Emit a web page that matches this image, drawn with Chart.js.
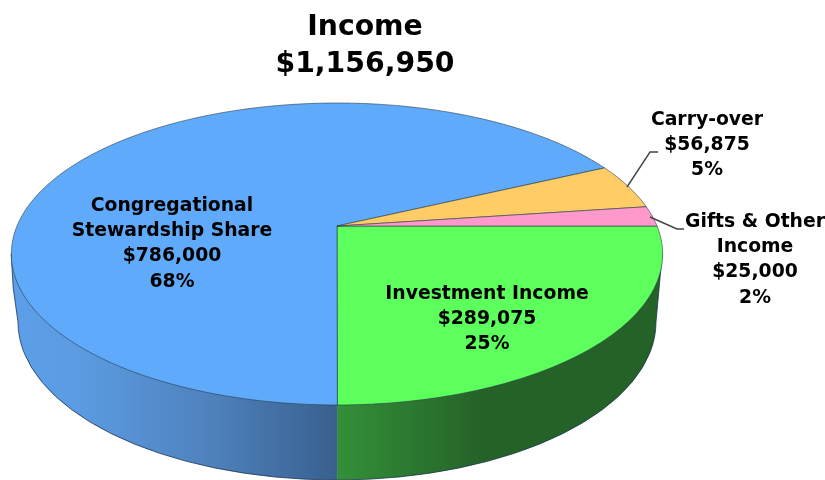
<!DOCTYPE html>
<html>
<head>
<meta charset="utf-8">
<style>html,body{margin:0;padding:0;background:#fff}#wrap{width:825px;height:480px}</style>
<script src="https://cdn.jsdelivr.net/npm/chart.js@4"></script>
</head>
<body>
<div id="wrap"><canvas id="c" width="825" height="480"></canvas></div>
<script>
const categories = ['Investment Income', 'Congregational Stewardship Share', 'Carry-over', 'Gifts & Other Income'];
const values = [289075, 786000, 56875, 25000];
const percents = ['25%', '68%', '5%', '2%'];
const titleLines = ['Income', '$1,156,950'];
const labelNames = [['Investment Income'], ['Congregational', 'Stewardship Share'], ['Carry-over'], ['Gifts & Other', 'Income']];

const faceColors = ['#5cff5c', '#60aafc', '#ffcc66', '#ff99cc'];
const FONT = '"DejaVu Sans"';
const labelCenters = [[487, 294], [172, 206], [707, 120], [755, 222]];
const labelLeading = 25.3, labelSize = 18.8;
const leaders = [[[627,187],[650,152],[658,152]], [[650,217],[677,229],[684,229]]];

// projective view of the pie's top face, and the rim's lower edge
const V = {ax: 337, ay: 226, c: 320, a: 145.8, b: -0.1854, bx: 337, by: 322, bR: 319, bS: 158};
const proj = t => {
  const u = Math.cos(t), v = Math.sin(t), d = 1 + V.b * v;
  return [V.ax + V.c * u / d, V.ay + V.a * v / d];
};
const shadeStops = {
  0: [[0, '#349038'], [0.45, '#256228'], [1, '#256228']],
  1: [[0, '#5c9fe8'], [0.2, '#5b9be2'], [0.6, '#4f82bd'], [1, '#38608f']]
};

function drawRim(ctx, arcs) {
  const left = [336.7 - 325.5, 254], right = [336.7 + 325.5, 254];
  const rim = () => {
    ctx.beginPath();
    ctx.moveTo(left[0], left[1]);
    ctx.lineTo(left[0] + 2, 288);
    ctx.lineTo(V.bx - V.bR, V.by);
    ctx.ellipse(V.bx, V.by, V.bR, V.bS, 0, Math.PI, 0, true);
    ctx.lineTo(right[0], right[1]);
    ctx.closePath();
  };
  arcs.forEach((arc, i) => {
    const s = Math.max(arc.startAngle, 0), e = Math.min(arc.endAngle, Math.PI);
    if (e <= s || !shadeStops[i]) return;
    const x0 = s <= 0.001 ? 825 : proj(s)[0];
    const x1 = e >= Math.PI - 0.001 ? 0 : proj(e)[0];
    const lo = Math.min(x0, x1), hi = Math.max(x0, x1);
    ctx.save();
    ctx.beginPath(); ctx.rect(lo, 0, hi - lo, 480); ctx.clip();
    rim();
    const isRight = i === 0;
    const g = ctx.createLinearGradient(isRight ? 337 : 15, 0, isRight ? 660 : 337, 0);
    shadeStops[i].forEach(p => g.addColorStop(p[0], p[1]));
    ctx.fillStyle = g; ctx.fill();
    ctx.strokeStyle = '#1c3350'; ctx.lineWidth = 0.8; ctx.stroke();
    ctx.restore();
  });
  ctx.beginPath(); ctx.moveTo(337, 405); ctx.lineTo(337, 480);
  ctx.strokeStyle = '#2f7a55'; ctx.lineWidth = 1; ctx.stroke();
}

function drawFace(ctx, arc, color) {
  const n = Math.max(8, Math.ceil((arc.endAngle - arc.startAngle) * 80));
  ctx.beginPath();
  ctx.moveTo(V.ax, V.ay);
  for (let k = 0; k <= n; k++) {
    const p = proj(arc.startAngle + (arc.endAngle - arc.startAngle) * k / n);
    ctx.lineTo(p[0], p[1]);
  }
  ctx.closePath();
  ctx.fillStyle = color; ctx.fill();
  ctx.strokeStyle = 'rgba(40,60,70,0.75)'; ctx.lineWidth = 0.8; ctx.stroke();
}

const pie3d = {
  id: 'pie3d',
  beforeDatasetDraw(chart) {
    const ctx = chart.ctx, arcs = chart.getDatasetMeta(0).data;
    ctx.save();
    drawRim(ctx, arcs);
    arcs.forEach((arc, i) => drawFace(ctx, arc, arc.options.backgroundColor));
    ctx.restore();
    return false;
  },
  afterDatasetsDraw(chart) {
    const ctx = chart.ctx;
    ctx.save();
    ctx.strokeStyle = '#444'; ctx.lineWidth = 1.4;
    leaders.forEach(l => {
      ctx.beginPath();
      l.forEach((p, i) => i ? ctx.lineTo(p[0], p[1]) : ctx.moveTo(p[0], p[1]));
      ctx.stroke();
    });
    ctx.fillStyle = '#000'; ctx.textAlign = 'center'; ctx.textBaseline = 'middle';
    ctx.font = 'bold ' + labelSize + 'px ' + FONT;
    categories.forEach((c, i) => {
      const lines = labelNames[i].concat(['$' + values[i].toLocaleString('en-US'), percents[i]]);
      lines.forEach((t, k) => ctx.fillText(t, labelCenters[i][0], labelCenters[i][1] + k * labelLeading));
    });
    ctx.restore();
  }
};

new Chart(document.getElementById('c'), {
  type: 'pie',
  data: {labels: categories, datasets: [{data: values, backgroundColor: faceColors}]},
  options: {
    responsive: false, animation: false, rotation: 90,
    layout: {padding: {right: 95}},
    plugins: {
      legend: {display: false}, tooltip: {enabled: false},
      title: {display: true, text: titleLines, color: '#000', padding: {top: 10, bottom: 0},
        font: {family: FONT, weight: 'bold', size: 28.3, lineHeight: 1.28}}
    }
  },
  plugins: [pie3d]
});
</script>
</body>
</html>
